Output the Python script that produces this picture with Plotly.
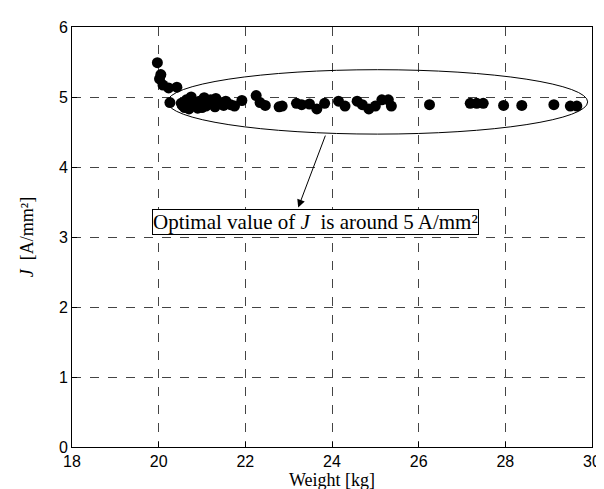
import plotly.graph_objects as go

weight = [19.97, 20.05, 20.02, 20.1, 20.23, 20.42, 20.26,
          20.52, 20.64, 20.75, 20.83, 20.94, 21.05, 21.09, 21.2, 21.32, 21.43, 21.55, 21.66,
          20.6, 20.7, 20.9, 21.0, 21.15, 21.3, 21.5, 21.75, 20.55, 20.8, 21.25,
          21.92, 22.25, 22.34, 22.46, 22.78, 22.85, 23.18, 23.3, 23.48, 23.65, 23.83,
          24.15, 24.3, 24.58, 24.7, 24.85, 25.0, 25.15, 25.3, 25.37,
          26.25, 27.19, 27.34, 27.49, 27.96, 28.38, 29.12, 29.5, 29.65]
current_density = [5.49, 5.32, 5.26, 5.17, 5.13, 5.14, 4.92,
                   4.91, 4.96, 5.0, 4.89, 4.94, 4.99, 4.87, 4.96, 4.98, 4.91, 4.94, 4.89,
                   4.85, 4.83, 4.84, 4.85, 4.9, 4.86, 4.88, 4.87, 4.88, 4.93, 4.9,
                   4.95, 5.02, 4.92, 4.88, 4.86, 4.87, 4.91, 4.89, 4.9, 4.83, 4.91,
                   4.94, 4.87, 4.94, 4.89, 4.83, 4.87, 4.96, 4.96, 4.87,
                   4.89, 4.91, 4.91, 4.91, 4.88, 4.88, 4.89, 4.87, 4.87]

x_ticks = [18, 20, 22, 24, 26, 28, 30]
y_ticks = [0, 1, 2, 3, 4, 5, 6]

fig = go.Figure()
fig.add_trace(go.Scatter(x=weight, y=current_density, mode="markers",
                         marker=dict(color="black", size=11, line=dict(width=0)),
                         showlegend=False))

# ellipse highlighting the cluster
fig.add_shape(type="circle", xref="x", yref="y", x0=20.2, x1=29.9, y0=4.47, y1=5.39,
              line=dict(color="black", width=1), fillcolor="rgba(0,0,0,0)")

fig.add_annotation(x=23.22, y=3.42, ax=23.86, ay=4.47, xref="x", yref="y", axref="x", ayref="y",
                   text="", showarrow=True, arrowhead=2, arrowsize=1.6, arrowwidth=1, arrowcolor="black")
fig.add_annotation(x=19.85, y=3.21, xref="x", yref="y", xanchor="left", yanchor="middle",
                   text="Optimal value of <i>J</i>  is around 5 A/mm²", showarrow=False,
                   font=dict(family="Liberation Serif", size=21, color="black"),
                   bgcolor="white", bordercolor="black", borderwidth=1, borderpad=0)

axis_common = dict(showline=True, linecolor="black", linewidth=1, mirror=True,
                   ticks="inside", ticklen=5, tickcolor="black",
                   showgrid=True, gridcolor="#444444", griddash="dash", gridwidth=1,
                   zeroline=False,
                   tickfont=dict(family="Liberation Sans", size=16, color="black"))

fig.update_xaxes(range=[18, 30], tickvals=x_ticks, ticktext=[str(v) for v in x_ticks],
                 title=dict(text="Weight [kg]", font=dict(family="Liberation Serif", size=18, color="black"),
                            standoff=0), **axis_common)
fig.update_yaxes(range=[0, 6], tickvals=y_ticks, ticktext=[str(v) for v in y_ticks],
                 title=dict(text="<i>J</i>  [A/mm²]", font=dict(family="Liberation Serif", size=18, color="black"),
                            standoff=20), **axis_common)

fig.update_layout(width=604, height=489, plot_bgcolor="white", paper_bgcolor="white",
                  margin=dict(l=64, r=11, t=15, b=50))
fig.write_html("out.html")
